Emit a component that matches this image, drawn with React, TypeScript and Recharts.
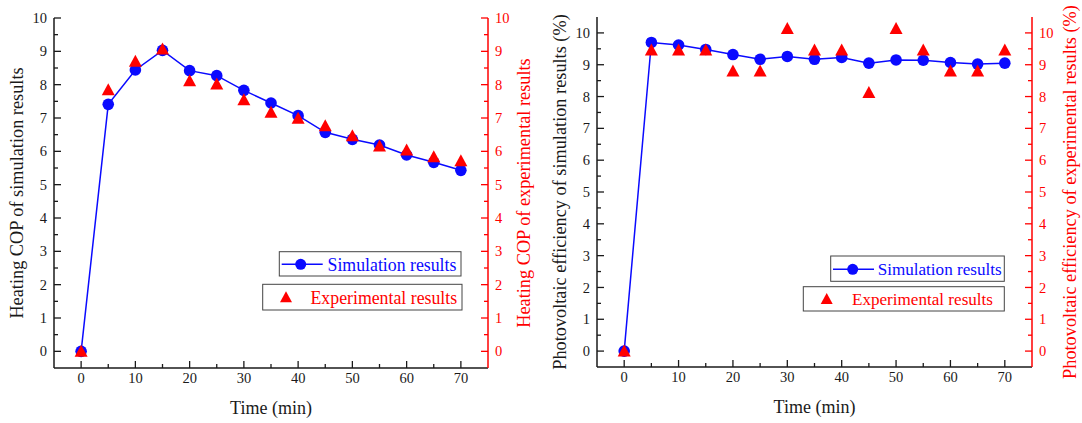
import React from 'react';
import { ComposedChart, Line, XAxis, YAxis, Legend } from 'recharts';

// ---------- data ----------
const time = [0, 5, 10, 15, 20, 25, 30, 35, 40, 45, 50, 55, 60, 65, 70];
const copSim = [0, 7.41, 8.44, 9.03, 8.42, 8.27, 7.83, 7.45, 7.07, 6.57, 6.36, 6.19, 5.89, 5.67, 5.43];
const copExp = [0, 7.85, 8.7, 9.07, 8.12, 8.02, 7.55, 7.17, 6.99, 6.77, 6.47, 6.16, 6.04, 5.84, 5.72];
const pvSim = [0, 9.7, 9.62, 9.48, 9.32, 9.17, 9.26, 9.17, 9.23, 9.05, 9.15, 9.14, 9.07, 9.02, 9.05];
const pvExp = [0, 9.46, 9.46, 9.46, 8.8, 8.8, 10.14, 9.46, 9.46, 8.13, 10.14, 9.46, 8.8, 8.8, 9.46];

const xTicks = [0, 5, 10, 15, 20, 25, 30, 35, 40, 45, 50, 55, 60, 65, 70];
const copYTicks = [0, 0.5, 1, 1.5, 2, 2.5, 3, 3.5, 4, 4.5, 5, 5.5, 6, 6.5, 7, 7.5, 8, 8.5, 9, 9.5, 10];
const pvYTicks = [0, 0.5, 1, 1.5, 2, 2.5, 3, 3.5, 4, 4.5, 5, 5.5, 6, 6.5, 7, 7.5, 8, 8.5, 9, 9.5, 10];
const xDomain = [-5, 75];
const copYDomain = [-0.5, 10];
const pvYDomain = [-0.5, 10.5];

const legendLabels = ['Simulation results', 'Experimental results'];
const copTitles = ['Heating COP of simulation results', 'Heating COP of experimental results'];
const pvTitles = [
  'Photovoltaic efficiency of simulation results (%)',
  'Photovoltaic efficiency of experimental results (%)',
];
const xTitle = 'Time (min)';

// ---------- style ----------
const BLUE = '#0a0aff';
const RED = '#ff0000';
const INK = '#1a1a1a';
const FONT = '"Liberation Serif", "Times New Roman", serif';

const LeftTick = (p: any) => {
  const { x, y, payload } = p;
  const v = payload.value;
  const major = Number.isInteger(v);
  return (
    <g>
      <line x1={x} x2={x + (major ? 7 : 4)} y1={y} y2={y} stroke={INK} strokeWidth={1.3} />
      {major && (
        <text x={x - 7} y={y} dy="0.35em" textAnchor="end" fontSize={14.5} fontFamily={FONT} fill={INK}>
          {v}
        </text>
      )}
    </g>
  );
};

const RightTick = (p: any) => {
  const { x, y, payload } = p;
  const v = payload.value;
  const major = Number.isInteger(v);
  return (
    <g>
      <line x1={x} x2={x - (major ? 7 : 4)} y1={y} y2={y} stroke={RED} strokeWidth={1.3} />
      {major && (
        <text x={x + 7} y={y} dy="0.35em" textAnchor="start" fontSize={14.5} fontFamily={FONT} fill={RED}>
          {v}
        </text>
      )}
    </g>
  );
};

const BottomTick = (p: any) => {
  const { x, y, payload } = p;
  const v = payload.value;
  const major = v % 10 === 0;
  return (
    <g>
      <line x1={x} x2={x} y1={y} y2={y - (major ? 7 : 4)} stroke={INK} strokeWidth={1.3} />
      {major && (
        <text x={x} y={y + 15} textAnchor="middle" fontSize={14.5} fontFamily={FONT} fill={INK}>
          {v}
        </text>
      )}
    </g>
  );
};

const Triangle = (p: any) => {
  const { cx, cy, index } = p;
  if (cx == null || cy == null) return <g key={`t${index}`} />;
  return (
    <path
      key={`t${index}`}
      d={`M${cx},${cy - 6.5} L${cx + 6.5},${cy + 5.5} L${cx - 6.5},${cy + 5.5} Z`}
      fill={RED}
    />
  );
};

const vTitle = (text: string, dx: number, color: string) => (props: any) => {
  const vb = props.viewBox || {};
  const x = (vb.x ?? 0) + dx;
  const y = (vb.y ?? 0) + (vb.height ?? 0) / 2;
  return (
    <text
      x={x}
      y={y}
      transform={`rotate(-90, ${x}, ${y})`}
      textAnchor="middle"
      fontSize={18.3}
      fontFamily={FONT}
      fill={color}
    >
      {text}
    </text>
  );
};

const hTitle = (text: string) => (props: any) => {
  const vb = props.viewBox || {};
  const x = (vb.x ?? 0) + (vb.width ?? 0) / 2;
  const y = (vb.y ?? 0) + 46;
  return (
    <text x={x} y={y} textAnchor="middle" fontSize={18} fontFamily={FONT} fill={INK}>
      {text}
    </text>
  );
};

type LegendGeom = {
  b1: [number, number, number, number];
  b2: [number, number, number, number];
  line: [number, number, number];
  circle: [number, number];
  text1: [number, number];
  tri: [number, number];
  text2: [number, number];
  fs: number;
};

const LegendBox = ({ g }: { g: LegendGeom }) => (
  <svg width={215} height={66} style={{ display: 'block', overflow: 'visible' }}>
    <rect x={g.b1[0]} y={g.b1[1]} width={g.b1[2]} height={g.b1[3]} fill="#fff" stroke="#444" strokeWidth={1} />
    <line x1={g.line[0]} x2={g.line[1]} y1={g.line[2]} y2={g.line[2]} stroke={BLUE} strokeWidth={1.5} />
    <circle cx={g.circle[0]} cy={g.circle[1]} r={5.5} fill={BLUE} />
    <text x={g.text1[0]} y={g.text1[1]} fontSize={g.fs} fontFamily={FONT} fill={BLUE}>
      {legendLabels[0]}
    </text>
    <rect x={g.b2[0]} y={g.b2[1]} width={g.b2[2]} height={g.b2[3]} fill="#fff" stroke="#444" strokeWidth={1} />
    <path
      d={`M${g.tri[0]},${g.tri[1] - 6} L${g.tri[0] + 6},${g.tri[1] + 5} L${g.tri[0] - 6},${g.tri[1] + 5} Z`}
      fill={RED}
    />
    <text x={g.text2[0]} y={g.text2[1]} fontSize={g.fs} fontFamily={FONT} fill={RED}>
      {legendLabels[1]}
    </text>
  </svg>
);

type PanelProps = {
  width: number;
  sim: number[];
  exp: number[];
  yDomain: number[];
  yTicks: number[];
  titles: string[];
  margin: { top: number; right: number; bottom: number; left: number };
  leftW: number;
  rightW: number;
  leftTitleDx: number;
  rightTitleDx: number;
  legendPos: { left: number; top: number };
  legendGeom: LegendGeom;
};

const Panel = (p: PanelProps) => {
  const data = time.map((t, i) => ({ t, sim: p.sim[i], exp: p.exp[i] }));
  return (
    <ComposedChart width={p.width} height={423} data={data} margin={p.margin}>
      <XAxis
        xAxisId="top"
        orientation="top"
        type="number"
        dataKey="t"
        domain={xDomain}
        height={0}
        tick={false}
        tickLine={false}
        axisLine={{ stroke: RED, strokeWidth: 1.2 }}
        allowDataOverflow
      />
      <XAxis
        xAxisId="b"
        type="number"
        dataKey="t"
        domain={xDomain}
        ticks={xTicks}
        interval={0}
        tickSize={0}
        tickMargin={0}
        tickLine={false}
        tick={<BottomTick />}
        axisLine={{ stroke: INK, strokeWidth: 1.5 }}
        height={40}
        allowDataOverflow
        label={hTitle(xTitle)}
      />
      <YAxis
        yAxisId="l"
        type="number"
        domain={p.yDomain}
        ticks={p.yTicks}
        interval={0}
        tickSize={0}
        tickMargin={0}
        tickLine={false}
        tick={<LeftTick />}
        axisLine={{ stroke: INK, strokeWidth: 1.5 }}
        width={p.leftW}
        allowDataOverflow
        label={vTitle(p.titles[0], p.leftTitleDx, INK)}
      />
      <YAxis
        yAxisId="r"
        orientation="right"
        type="number"
        domain={p.yDomain}
        ticks={p.yTicks}
        interval={0}
        tickSize={0}
        tickMargin={0}
        tickLine={false}
        tick={<RightTick />}
        axisLine={{ stroke: RED, strokeWidth: 1.5 }}
        width={p.rightW}
        allowDataOverflow
        label={vTitle(p.titles[1], p.rightTitleDx, RED)}
      />
      <Legend
        layout="vertical"
        align="center"
        verticalAlign="middle"
        width={215}
        height={66}
        wrapperStyle={{ position: 'absolute', left: p.legendPos.left, top: p.legendPos.top, width: 215, height: 66 }}
        content={() => <LegendBox g={p.legendGeom} />}
      />
      <Line
        xAxisId="b"
        yAxisId="l"
        dataKey="sim"
        name={legendLabels[0]}
        stroke={BLUE}
        strokeWidth={1.5}
        dot={{ r: 5.8, fill: BLUE, stroke: BLUE, strokeWidth: 0 }}
        isAnimationActive={false}
      />
      <Line
        xAxisId="b"
        yAxisId="r"
        dataKey="exp"
        name={legendLabels[1]}
        stroke="none"
        strokeWidth={0}
        dot={Triangle}
        isAnimationActive={false}
      />
    </ComposedChart>
  );
};

export default function App() {
  return (
    <div style={{ position: 'absolute', left: 0, top: 0, width: 1082, height: 423, background: '#fff' }}>
      <div style={{ position: 'absolute', left: 0, top: 0 }}>
        <Panel
          width={540}
          sim={copSim}
          exp={copExp}
          yDomain={copYDomain}
          yTicks={copYTicks}
          titles={copTitles}
          margin={{ top: 18, right: 12, bottom: 15, left: 0 }}
          leftW={54}
          rightW={40}
          leftTitleDx={23}
          rightTitleDx={42}
          legendPos={{ left: 260, top: 250 }}
          legendGeom={{
            b1: [19.3, 1.7, 181.7, 24.3],
            b2: [2.7, 34.3, 199.3, 25.7],
            line: [21.7, 62.7, 14.3],
            circle: [40.7, 14.3],
            text1: [67.5, 20.5],
            tri: [26, 47.3],
            text2: [50.5, 53.8],
            fs: 17.8,
          }}
        />
      </div>
      <div style={{ position: 'absolute', left: 540, top: 0 }}>
        <Panel
          width={542}
          sim={pvSim}
          exp={pvExp}
          yDomain={pvYDomain}
          yTicks={pvYTicks}
          titles={pvTitles}
          margin={{ top: 17, right: 10, bottom: 16, left: 0 }}
          leftW={57}
          rightW={40}
          leftTitleDx={26}
          rightTitleDx={44}
          legendPos={{ left: 260, top: 254 }}
          legendGeom={{
            b1: [30.7, 2, 173.6, 25.3],
            b2: [3.3, 32.7, 201, 24.3],
            line: [33, 74, 15.3],
            circle: [52.7, 15.3],
            text1: [77.7, 21.3],
            tri: [26.7, 45],
            text2: [52, 51.3],
            fs: 17.1,
          }}
        />
      </div>
    </div>
  );
}
